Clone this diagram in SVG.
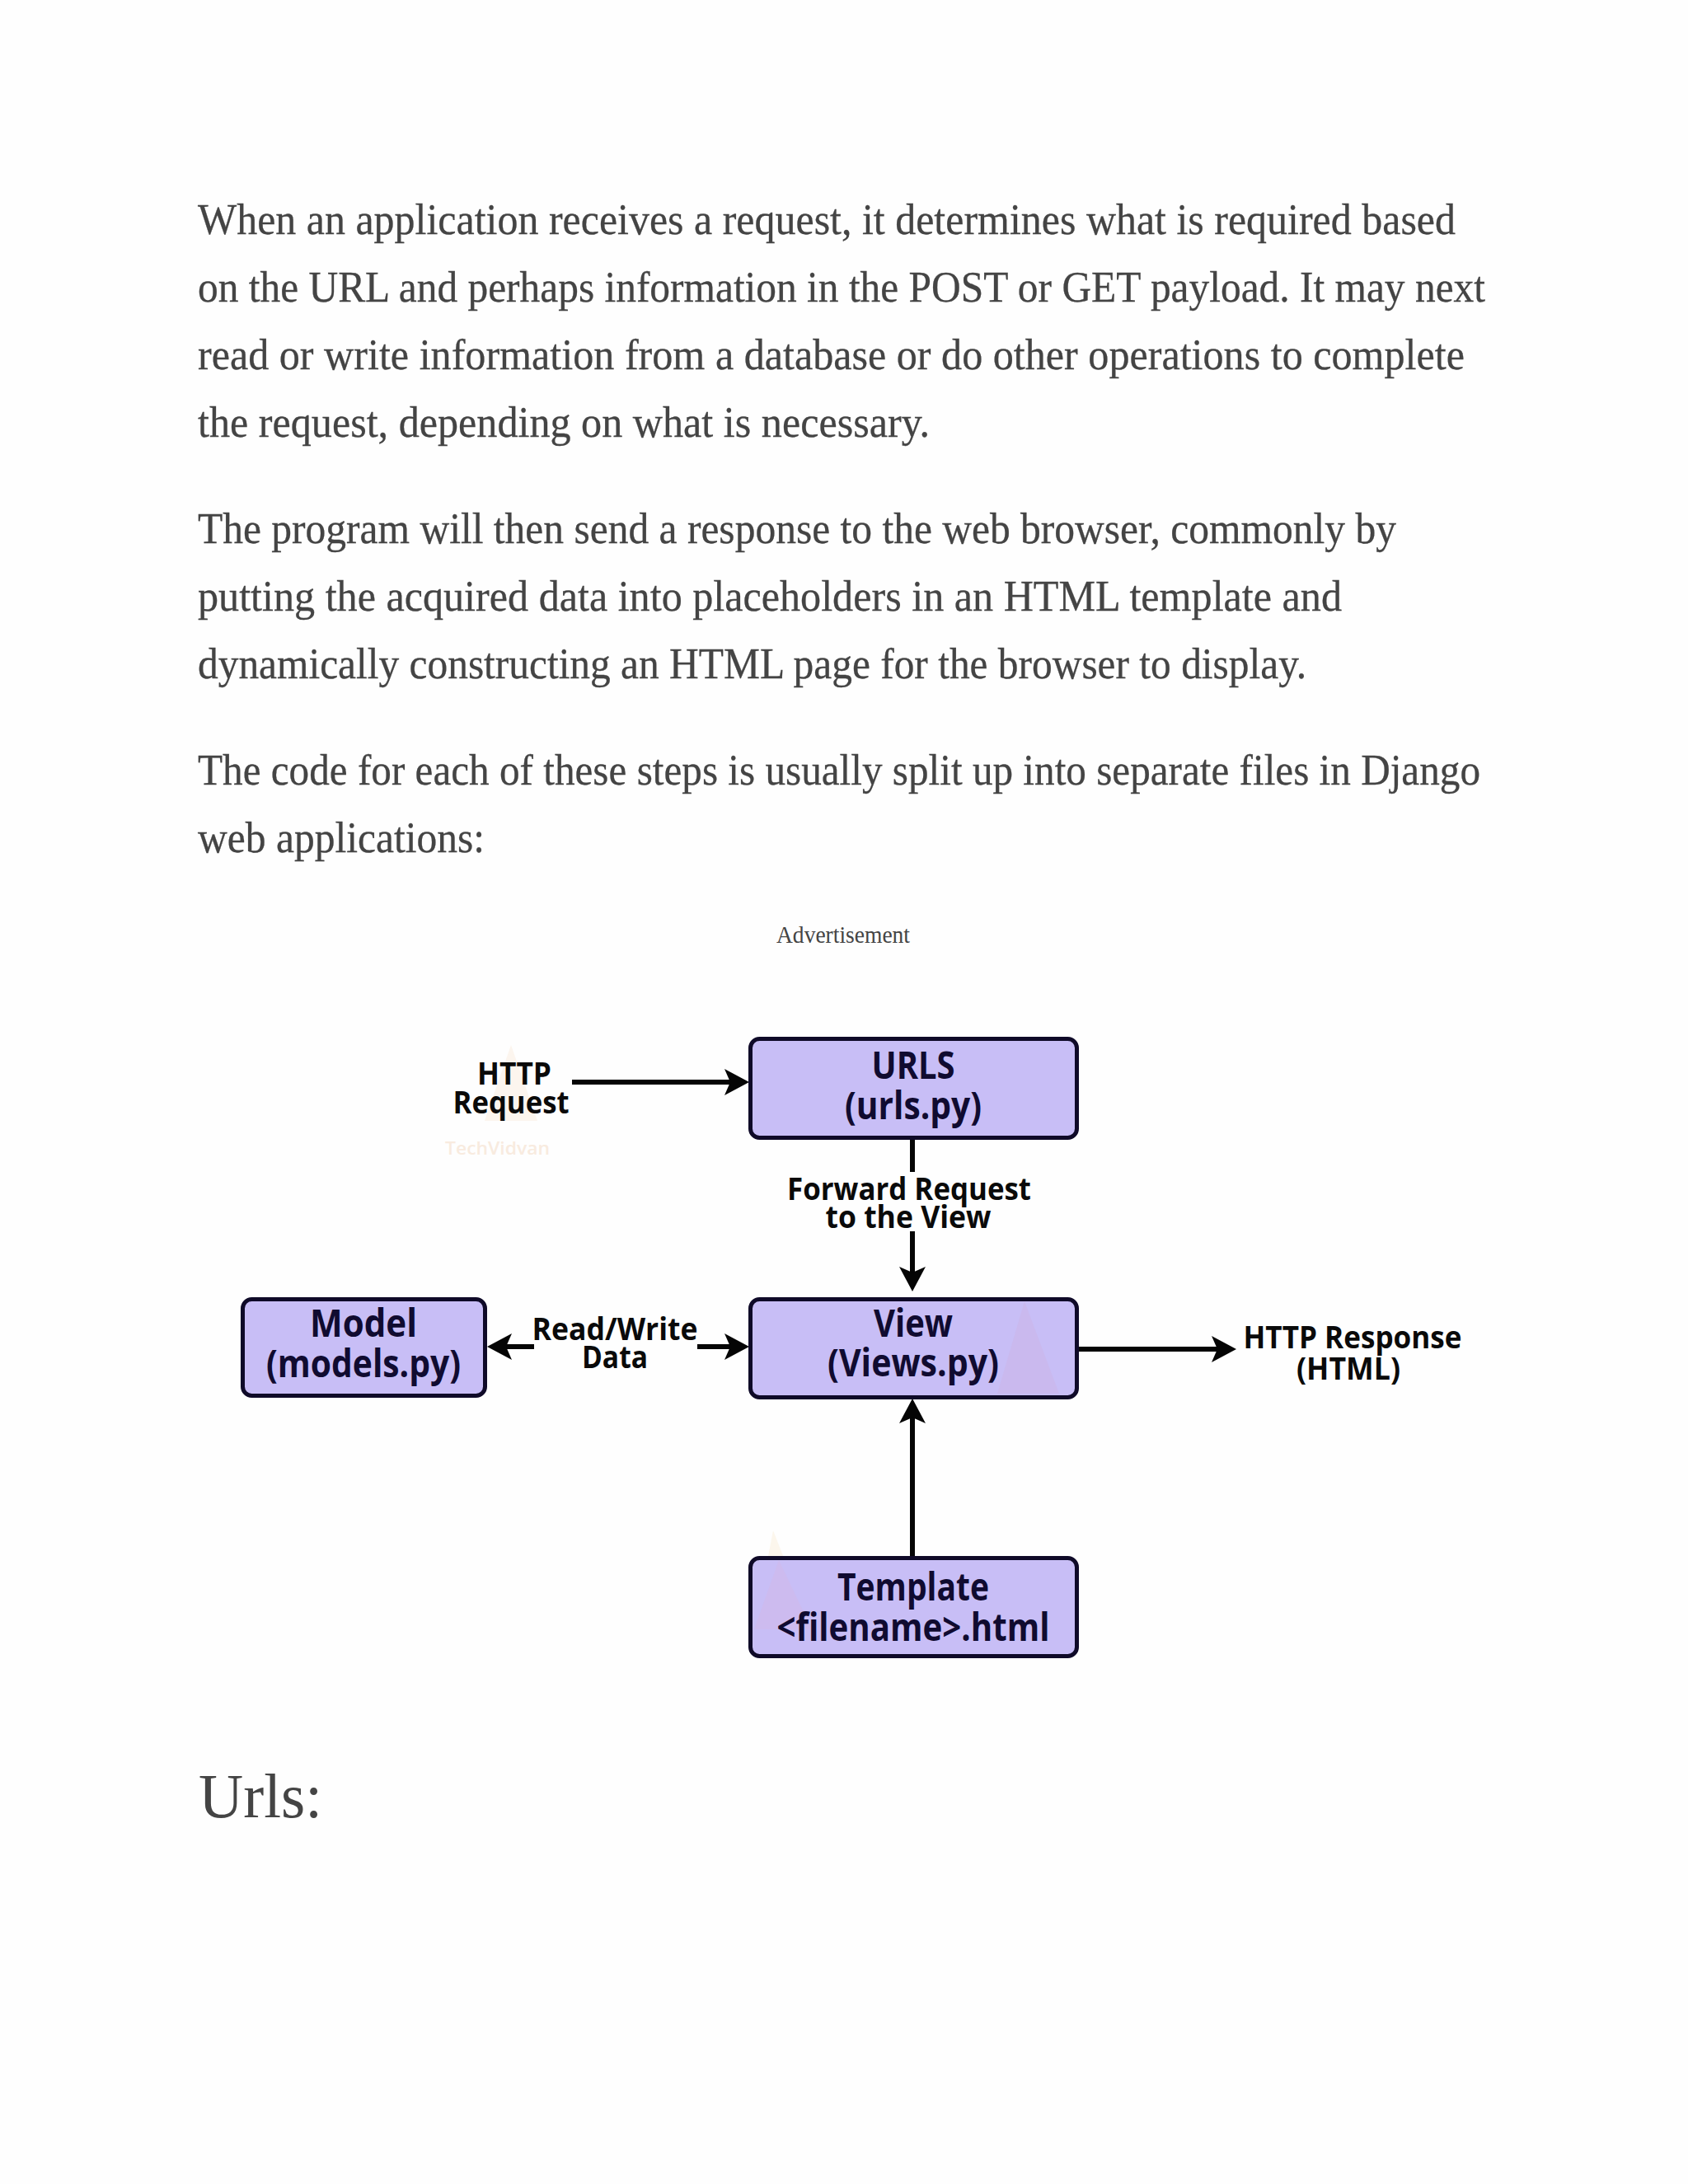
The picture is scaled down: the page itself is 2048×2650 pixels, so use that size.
<svg xmlns="http://www.w3.org/2000/svg" width="2048" height="2650" viewBox="0 0 2048 2650">
<style>
.b{font-family:"Liberation Serif","DejaVu Serif",serif;font-size:53px;fill:#444444;stroke:#444444;stroke-width:.3px}
.n{font-family:"Open Sans","Noto Sans",sans-serif;font-weight:700;font-size:46px;fill:#100b30;text-anchor:middle}
.l{font-family:"Open Sans","Noto Sans",sans-serif;font-weight:700;font-size:38px;fill:#0a0a0a;text-anchor:middle}
.box{fill:#c8bef6;stroke:#0f0a28;stroke-width:5}
.c{stroke:#050505;stroke-width:6;fill:none;marker-end:url(#a)}
.p{stroke:#050505;stroke-width:6;fill:none}
.w{font-family:"Open Sans",sans-serif;font-weight:600;font-size:22px;fill:#f8ebdf}
</style>
<defs><marker id="a" markerUnits="userSpaceOnUse" viewBox="0 -18 32 36" markerWidth="32" markerHeight="36" refX="15" refY="0" orient="auto"><path d="M0,-16L30,0L0,16L7,0Z" fill="#050505"/></marker></defs>
<rect width="2048" height="2650" fill="#fefefe"/>
<g id="body-text">
<text class="b" x="240" y="284" textLength="1526" lengthAdjust="spacingAndGlyphs">When an application receives a request, it determines what is required based</text>
<text class="b" x="240" y="366" textLength="1562" lengthAdjust="spacingAndGlyphs">on the URL and perhaps information in the POST or GET payload. It may next</text>
<text class="b" x="240" y="448" textLength="1537" lengthAdjust="spacingAndGlyphs">read or write information from a database or do other operations to complete</text>
<text class="b" x="240" y="530" textLength="888" lengthAdjust="spacingAndGlyphs">the request, depending on what is necessary.</text>
<text class="b" x="240" y="659" textLength="1454" lengthAdjust="spacingAndGlyphs">The program will then send a response to the web browser, commonly by</text>
<text class="b" x="240" y="741" textLength="1388" lengthAdjust="spacingAndGlyphs">putting the acquired data into placeholders in an HTML template and</text>
<text class="b" x="240" y="823" textLength="1345" lengthAdjust="spacingAndGlyphs">dynamically constructing an HTML page for the browser to display.</text>
<text class="b" x="240" y="952" textLength="1556" lengthAdjust="spacingAndGlyphs">The code for each of these steps is usually split up into separate files in Django</text>
<text class="b" x="240" y="1034" textLength="348" lengthAdjust="spacingAndGlyphs">web applications:</text>
<text x="942" y="1144" textLength="162" lengthAdjust="spacingAndGlyphs" style="font-family:'Liberation Serif',serif;font-size:29px;fill:#444">Advertisement</text>
<text x="241" y="2205" textLength="150" lengthAdjust="spacingAndGlyphs" style="font-family:'Liberation Serif',serif;font-size:77px;fill:#444">Urls:</text>
</g>
<g id="watermarks">
<path d="M620,1268L652,1360H588Z" fill="#fcf5ee"/>
<text class="w" x="540" y="1401" textLength="127" lengthAdjust="spacingAndGlyphs">TechVidvan</text>
<path d="M938,1857L985,1977H915Z" fill="#fcf6ec"/>
</g>
<g id="connectors">
<path class="c" d="M694,1313H894"/>
<path class="p" d="M1107,1382V1422"/>
<path class="c" d="M1107,1494V1552"/>
<path class="c" d="M648,1634H606"/>
<path class="c" d="M846,1634H894"/>
<path class="c" d="M1308,1637H1485"/>
<path class="c" d="M1107,1888V1712"/>
</g>
<g id="n-urls"><rect class="box" x="910.5" y="1260.5" width="396" height="120" rx="11"/><text class="n" x="1108" y="1309" textLength="101" lengthAdjust="spacingAndGlyphs">URLS</text><text class="n" x="1108" y="1358" textLength="166" lengthAdjust="spacingAndGlyphs">(urls.py)</text></g>
<g id="n-view"><rect class="box" x="910.5" y="1576.5" width="396" height="119" rx="11"/><path d="M1243,1579L1285,1691H1210Z" fill="#d3a9d0" opacity=".22"/><text class="n" x="1108" y="1622" textLength="96" lengthAdjust="spacingAndGlyphs">View</text><text class="n" x="1108" y="1670" textLength="208" lengthAdjust="spacingAndGlyphs">(Views.py)</text></g>
<g id="n-model"><rect class="box" x="294.5" y="1576.5" width="294" height="117" rx="11"/><text class="n" x="441" y="1622" textLength="130" lengthAdjust="spacingAndGlyphs">Model</text><text class="n" x="441" y="1671" textLength="236" lengthAdjust="spacingAndGlyphs">(models.py)</text></g>
<g id="n-template"><rect class="box" x="910.5" y="1890.5" width="396" height="119" rx="11"/><path d="M945,1893L985,1977H915Z" fill="#e0b0d8" opacity=".22"/><text class="n" x="1108" y="1942" textLength="184" lengthAdjust="spacingAndGlyphs">Template</text><text class="n" x="1108" y="1991" textLength="331" lengthAdjust="spacingAndGlyphs">&lt;filename&gt;.html</text></g>
<g id="labels">
<text class="l" x="624" y="1316" textLength="90" lengthAdjust="spacingAndGlyphs">HTTP</text>
<text class="l" x="620" y="1351" textLength="141" lengthAdjust="spacingAndGlyphs">Request</text>
<text class="l" x="1103" y="1456" textLength="296" lengthAdjust="spacingAndGlyphs">Forward Request</text>
<text class="l" x="1102" y="1490" textLength="201" lengthAdjust="spacingAndGlyphs">to the View</text>
<text class="l" x="746" y="1626" textLength="201" lengthAdjust="spacingAndGlyphs">Read/Write</text>
<text class="l" x="746" y="1660" textLength="80" lengthAdjust="spacingAndGlyphs">Data</text>
<text class="l" x="1641" y="1636" textLength="265" lengthAdjust="spacingAndGlyphs">HTTP Response</text>
<text class="l" x="1636" y="1674" textLength="126" lengthAdjust="spacingAndGlyphs">(HTML)</text>
</g>
</svg>
